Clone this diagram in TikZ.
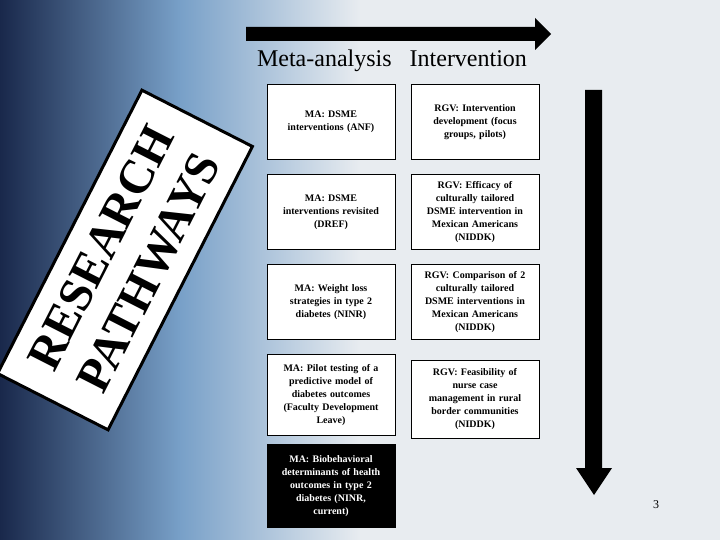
\documentclass[tikz,border=0pt]{standalone}
\usepackage{fontspec}
\setmainfont{Liberation Serif}
\usetikzlibrary{positioning}
\definecolor{bgnavy}{RGB}{25,40,75}
\definecolor{bgblue}{RGB}{120,160,200}
\definecolor{bglight}{RGB}{232,236,240}

\tikzset{
	cell/.style={draw,thick,fill=white,minimum width=128pt,text width=124pt,align=center,
		font=\bfseries\fontsize{10}{13}\selectfont,inner sep=2pt},
	darkcell/.style={cell,fill=black,text=white},
}

\begin{document}
\begin{tikzpicture}[x=1pt,y=-1pt]
	\useasboundingbox (0,0) rectangle (720,540);
	\shade[left color=bgnavy,right color=bglight,middle color=bgblue] (0,0) rectangle (360,540);
	\fill[bglight] (360,0) rectangle (720,540);

	% title banner
	\node[draw,line width=3pt,fill=white,rotate=63,minimum width=318pt,minimum height=124pt,
		align=center,font=\bfseries\fontsize{48}{54}\selectfont] (Title) at (125,260) {RESEARCH\\PATHWAYS};

	% arrows
	\fill (246,27) -- (535,27) -- (535,18) -- (551,34) -- (535,50) -- (535,41) -- (246,41) -- cycle;
	\fill (585,90) -- (602,90) -- (602,468) -- (612,468) -- (594,495) -- (576,468) -- (585,468) -- cycle;

	\node[font=\fontsize{24}{28}\selectfont] (Head) at (392,61) {Meta-analysis\ \ \ Intervention};

	% meta-analysis column
	\node[cell,minimum height=75pt] (M1) at (331,122) {MA: DSME\\interventions (ANF)};
	\node[cell,minimum height=75pt] (M2) at (331,212) {MA: DSME\\interventions revisited\\(DREF)};
	\node[cell,minimum height=75pt] (M3) at (331,302) {MA: Weight loss\\strategies in type 2\\diabetes (NINR)};
	\node[cell,minimum height=81pt] (M4) at (331,395) {MA: Pilot testing of a\\predictive model of\\diabetes outcomes\\(Faculty Development\\Leave)};
	\node[darkcell,minimum height=83pt] (M5) at (331,486) {MA: Biobehavioral\\determinants of health\\outcomes in type 2\\diabetes (NINR,\\current)};

	% intervention column
	\node[cell,minimum height=75pt] (R1) at (475,122) {RGV: Intervention\\development (focus\\groups, pilots)};
	\node[cell,minimum height=75pt] (R2) at (475,212) {RGV: Efficacy of\\culturally tailored\\DSME intervention in\\Mexican Americans\\(NIDDK)};
	\node[cell,minimum height=75pt] (R3) at (475,302) {RGV: Comparison of 2\\culturally tailored\\DSME interventions in\\Mexican Americans\\(NIDDK)};
	\node[cell,minimum height=78pt] (R4) at (475,399) {RGV: Feasibility of\\nurse case\\management in rural\\border communities\\(NIDDK)};

	\node[font=\fontsize{12}{14}\selectfont] (Page) at (656,505) {3};
\end{tikzpicture}
\end{document}
